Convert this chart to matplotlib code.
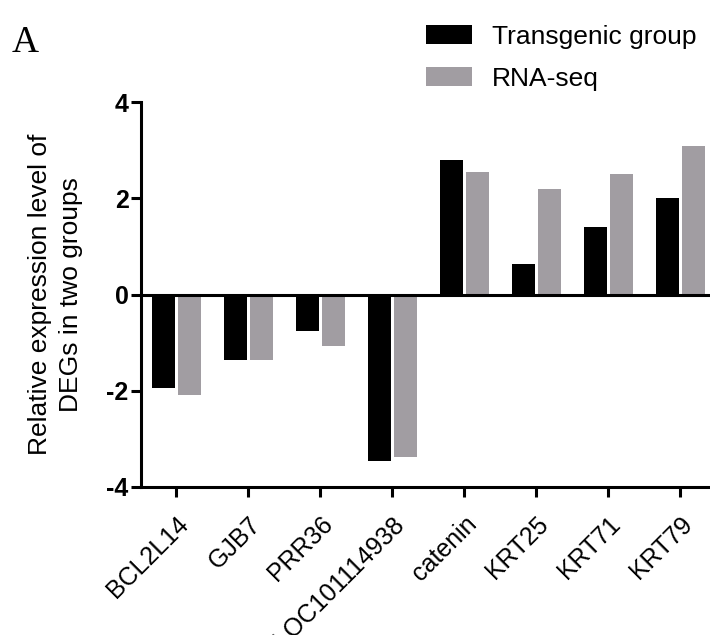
import numpy as np
import matplotlib
matplotlib.use("Agg")
import matplotlib.pyplot as plt

# ------------------ Data ------------------

genes = ["BCL2L14", "GJB7", "PRR36", "LOC101114938",
         "catenin", "KRT25", "KRT71", "KRT79"]
transgenic = [-1.95, -1.36, -0.75, -3.46, 2.80, 0.64, 1.41, 2.01]
rna_seq = [-2.08, -1.37, -1.06, -3.37, 2.55, 2.19, 2.51, 3.09]

# ------------------ Plot ------------------

plt.rcParams["font.family"] = ["Liberation Sans", "DejaVu Sans"]

fig = plt.figure(figsize=(7.1, 6.35), dpi=100)
ax = fig.add_axes([141 / 710, 148 / 635, 576 / 710, 385 / 635])

x = np.arange(len(genes))
width = 0.32
ax.bar(x - 0.175, transgenic, width, color="black", label="Transgenic group")
ax.bar(x + 0.19, rna_seq, width, color="#a19da2", label="RNA-seq")
ax.axhline(0, color="black", lw=2.2, zorder=3)

ax.set_xlim(-0.49, 7.51)
ax.set_ylim(-4, 4)
ax.set_yticks([-4, -2, 0, 2, 4])
ax.set_yticklabels(["-4", "-2", "0", "2", "4"], fontsize=18, fontweight="bold")
ax.set_xticks(x)
ax.set_xticklabels(genes, fontsize=18, rotation=45, ha="right",
                   rotation_mode="anchor")

for side in ["top", "right"]:
    ax.spines[side].set_visible(False)
for side in ["left", "bottom"]:
    ax.spines[side].set_linewidth(2.2)
ax.tick_params(axis="both", width=2.2, length=7)
ax.tick_params(axis="x", pad=11)
ax.tick_params(axis="y", pad=2)

ax.set_ylabel("Relative expression level of\nDEGs in two groups", fontsize=19,
              linespacing=1.4)
ax.yaxis.set_label_coords(-0.10, 0.5)

fig.legend(loc="upper left", bbox_to_anchor=(415 / 710, 1 - 14 / 635),
           frameon=False, fontsize=19, handlelength=1.75, handleheight=0.75,
           handletextpad=0.75, labelspacing=0.7, borderaxespad=0)

fig.text(12 / 710, 1 - 52 / 635, "A", fontsize=27, family="Liberation Serif")

fig.savefig("out.png", dpi=100)
